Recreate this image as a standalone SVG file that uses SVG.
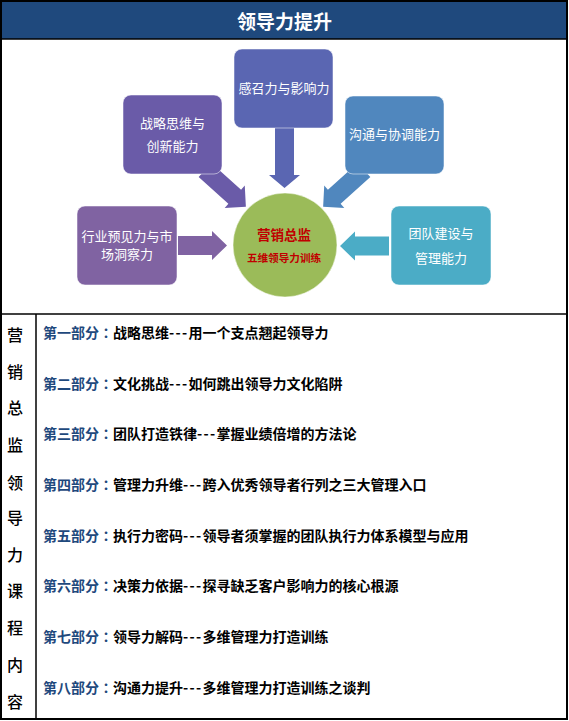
<svg xmlns="http://www.w3.org/2000/svg" width="569" height="721" viewBox="0 0 569 721">
<style>
.cjk{font-family:"Noto Sans CJK SC","Noto Sans",sans-serif}
.title{font-size:19px;font-weight:bold;fill:#FFFFFF}
.nl{font-size:13px;fill:#FFFFFF;text-anchor:middle}
.side{font-size:16px;fill:#000000;text-anchor:middle;font-weight:500}
.item{font-size:14px;font-weight:bold;fill:#000000}
.lab{fill:#1F497D}
.colon{font-family:"Noto Sans CJK TC","Noto Sans CJK SC",sans-serif}
.dash{letter-spacing:1.3px}
.node{stroke:#FFFFFF;stroke-opacity:0.5;stroke-width:1}
.frame{fill:none;stroke:#000000;stroke-width:2}
</style>
<defs>
<path id="arr49" d="M0,-9.5 H34 V-14.5 L49,0 L34,14.5 V9.5 H0 Z"/>
<path id="arr60" d="M0,-9.5 H47 V-15.5 L60,0 L47,15.5 V9.5 H0 Z"/>
<path id="arr55" d="M0,-9.5 H40 V-15 L55,0 L40,15 V9.5 H0 Z"/>
</defs>
<rect x="0" y="0" width="569" height="721" fill="#FFFFFF"/>
<g id="title">
<rect x="1" y="1" width="566" height="38" fill="#1F497D"/>
<text class="cjk title" x="284.5" y="29" text-anchor="middle">领导力提升</text>
</g>
<g id="connectors">
<use href="#arr60" transform="translate(284.5,128) rotate(90)" fill="#5A66B2"/>
<use href="#arr55" transform="translate(205,170) rotate(42)" fill="#6A5BA8"/>
<use href="#arr55" transform="translate(364,170) rotate(138)" fill="#5087BE"/>
<use href="#arr49" transform="translate(178,245.5)" fill="#8063A2"/>
<use href="#arr49" transform="translate(389,246) rotate(180)" fill="#4BACC6"/>
</g>
<g id="node-ganzhao">
<rect class="node" x="234" y="49" width="99" height="79" rx="8" fill="#5A66B2"/>
<text class="cjk nl" x="284" y="92.5">感召力与影响力</text>
</g>
<g id="node-zhanlue">
<rect class="node" x="123" y="95" width="99" height="79" rx="8" fill="#6A5BA8"/>
<text class="cjk nl" x="172.5" y="127.5">战略思维与</text>
<text class="cjk nl" x="172.5" y="150.5">创新能力</text>
</g>
<g id="node-goutong">
<rect class="node" x="345" y="96" width="99" height="78" rx="8" fill="#5087BE"/>
<text class="cjk nl" x="394.5" y="138.5">沟通与协调能力</text>
</g>
<g id="node-hangye">
<rect class="node" x="77" y="206" width="100" height="79" rx="8" fill="#8063A2"/>
<text class="cjk nl" x="127" y="241">行业预见力与市</text>
<text class="cjk nl" x="127" y="259">场洞察力</text>
</g>
<g id="node-tuandui">
<rect class="node" x="391" y="206" width="100" height="79" rx="8" fill="#4BACC6"/>
<text class="cjk nl" x="441" y="237.5">团队建设与</text>
<text class="cjk nl" x="441" y="262.5">管理能力</text>
</g>
<g id="node-center">
<circle cx="285" cy="245" r="52" fill="#9BBB59" stroke="#FFFFFF" stroke-opacity="0.5"/>
<text class="cjk" x="284" y="240" text-anchor="middle" font-size="13.5" font-weight="bold" fill="#C00000">营销总监</text>
<text class="cjk" x="284" y="262" text-anchor="middle" font-size="10.6" font-weight="bold" fill="#C00000">五维领导力训练</text>
</g>
<g id="course-table">
<line x1="1" y1="39" x2="567" y2="39" stroke="#000000" stroke-width="1.5"/>
<line x1="1" y1="314" x2="567" y2="314" stroke="#000000" stroke-width="1.5"/>
<line x1="36" y1="314" x2="36" y2="719" stroke="#000000" stroke-width="1.5"/>
<g class="cjk side">
<text x="15" y="341">营</text>
<text x="15" y="378">销</text>
<text x="15" y="414">总</text>
<text x="15" y="451">监</text>
<text x="15" y="489">领</text>
<text x="15" y="524">导</text>
<text x="15" y="561">力</text>
<text x="15" y="597">课</text>
<text x="15" y="634">程</text>
<text x="15" y="671">内</text>
<text x="15" y="708">容</text>
</g>
<g class="cjk item">
<text x="43" y="338"><tspan class="lab">第一部分<tspan class="colon">：</tspan></tspan>战略思维<tspan class="dash">---</tspan>用一个支点翘起领导力</text>
<text x="43" y="389"><tspan class="lab">第二部分<tspan class="colon">：</tspan></tspan>文化挑战<tspan class="dash">---</tspan>如何跳出领导力文化陷阱</text>
<text x="43" y="439"><tspan class="lab">第三部分<tspan class="colon">：</tspan></tspan>团队打造铁律<tspan class="dash">---</tspan>掌握业绩倍增的方法论</text>
<text x="43" y="490"><tspan class="lab">第四部分<tspan class="colon">：</tspan></tspan>管理力升维<tspan class="dash">---</tspan>跨入优秀领导者行列之三大管理入口</text>
<text x="43" y="541"><tspan class="lab">第五部分<tspan class="colon">：</tspan></tspan>执行力密码<tspan class="dash">---</tspan>领导者须掌握的团队执行力体系模型与应用</text>
<text x="43" y="591"><tspan class="lab">第六部分<tspan class="colon">：</tspan></tspan>决策力依据<tspan class="dash">---</tspan>探寻缺乏客户影响力的核心根源</text>
<text x="43" y="642"><tspan class="lab">第七部分<tspan class="colon">：</tspan></tspan>领导力解码<tspan class="dash">---</tspan>多维管理力打造训练</text>
<text x="43" y="693"><tspan class="lab">第八部分<tspan class="colon">：</tspan></tspan>沟通力提升<tspan class="dash">---</tspan>多维管理力打造训练之谈判</text>
</g>
</g>
<rect class="frame" x="1" y="1" width="566" height="718"/>
</svg>
